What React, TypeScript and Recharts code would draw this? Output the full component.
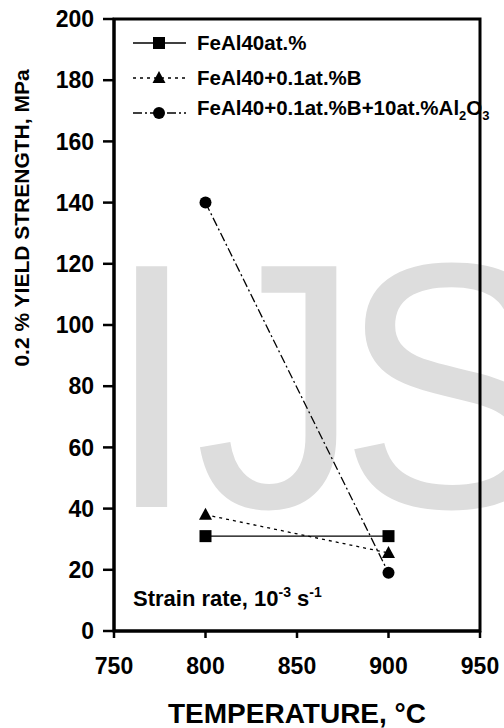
import { LineChart, Line, XAxis, YAxis, Legend, ReferenceArea } from "recharts";

const TEMPS = [800, 900];
const FEAL40 = [31, 31];
const FEAL40_B = [38, 25.5];
const FEAL40_B_AL2O3 = [140, 19];
const X_TICKS = [750, 800, 850, 900, 950];
const Y_TICKS = [0, 20, 40, 60, 80, 100, 120, 140, 160, 180, 200];

const FONT = "'Liberation Sans', Arial, Helvetica, sans-serif";

const data = TEMPS.map((t, i) => ({
  temp: t,
  feal: FEAL40[i],
  boron: FEAL40_B[i],
  alumina: FEAL40_B_AL2O3[i],
}));

type Shape = "square" | "triangle" | "circle";

const SERIES: { key: string; name: string; dash?: string; shape: Shape }[] = [
  { key: "feal", name: "FeAl40at.%", shape: "square" },
  { key: "boron", name: "FeAl40+0.1at.%B", dash: "3 4", shape: "triangle" },
  { key: "alumina", name: "FeAl40+0.1at.%B+10at.%Al2O3", dash: "9 3 2 3", shape: "circle" },
];

function Marker({ cx, cy, shape }: { cx: number; cy: number; shape: Shape }) {
  if (cx == null || cy == null) return null;
  if (shape === "square") return <rect x={cx - 6} y={cy - 6} width={12} height={12} fill="#000" />;
  if (shape === "triangle")
    return <polygon points={`${cx},${cy - 7} ${cx + 6.5},${cy + 5} ${cx - 6.5},${cy + 5}`} fill="#000" />;
  return <circle cx={cx} cy={cy} r={6} fill="#000" />;
}

function legendLabel(name: string) {
  // Al2O3 gets real subscripts
  if (!name.endsWith("Al2O3")) return name;
  const head = name.slice(0, -5);
  return (
    <>
      {head}Al<sub style={{ fontSize: 13 }}>2</sub>O<sub style={{ fontSize: 13 }}>3</sub>
    </>
  );
}

function LegendBox() {
  return (
    <div style={{ fontFamily: FONT, fontWeight: "bold", fontSize: 20.5 }}>
      {SERIES.map((s) => (
        <div key={s.key} style={{ display: "flex", alignItems: "center", height: 35, lineHeight: "20px" }}>
          <svg width={64} height={20} style={{ flexShrink: 0 }}>
            <line x1={0} y1={10} x2={53} y2={10} stroke="#000" strokeWidth={1.4} strokeDasharray={s.dash} />
            <Marker cx={26} cy={10} shape={s.shape} />
          </svg>
          <span style={{ whiteSpace: "nowrap" }}>{legendLabel(s.name)}</span>
        </div>
      ))}
    </div>
  );
}

function BoldTick(props: any) {
  const { x, y, payload, textAnchor, orientation } = props;
  return (
    <text
      x={x}
      y={y}
      dy={orientation === "bottom" ? "0.71em" : "0.36em"}
      textAnchor={textAnchor}
      fontFamily={FONT}
      fontWeight="bold"
      fontSize={23}
      fill="#000"
    >
      {payload.value}
    </text>
  );
}

export default function App() {
  return (
    <div style={{ position: "absolute", left: 0, top: 0, width: 504, height: 728, background: "#fff", overflow: "hidden" }}>
      <svg width={504} height={728} style={{ position: "absolute", left: 0, top: 0 }}>
        {/* watermark behind the plot, cut by the right edge like the source */}
        <text
          transform="scale(0.95,1)"
          x="111 205 357"
          y={507}
          fill="#dddddd"
          fontFamily={FONT}
          fontSize={350}
        >
          IJS
        </text>
        <text
          x={21}
          y={218}
          transform="rotate(-90,21,218)"
          textAnchor="middle"
          dominantBaseline="central"
          fontFamily={FONT}
          fontWeight="bold"
          fontSize={21}
        >
          0.2 % YIELD STRENGTH, MPa
        </text>
        <text x={297} y={723} textAnchor="middle" fontFamily={FONT} fontWeight="bold" fontSize={28}>
          TEMPERATURE, °C
        </text>
        <text x={133} y={606} fontFamily={FONT} fontWeight="bold" fontSize={22}>
          Strain rate, 10
          <tspan fontSize={14} dy={-9}>-3</tspan>
          <tspan fontSize={22} dy={9}> s</tspan>
          <tspan fontSize={14} dy={-9}>-1</tspan>
        </text>
      </svg>
      <div style={{ position: "absolute", left: 0, top: 0 }}>
        <LineChart width={504} height={728} data={data} margin={{ top: 19, right: 24, left: 0, bottom: 0 }}>
          <XAxis
            dataKey="temp"
            type="number"
            domain={[750, 950]}
            ticks={X_TICKS}
            height={97}
            tickSize={7}
            tickMargin={20}
            tick={<BoldTick />}
            axisLine={{ stroke: "#000", strokeWidth: 3 }}
            tickLine={{ stroke: "#000", strokeWidth: 2.5 }}
          />
          <YAxis
            type="number"
            domain={[0, 200]}
            ticks={Y_TICKS}
            width={114}
            tickSize={11}
            tickMargin={9}
            tick={<BoldTick />}
            axisLine={{ stroke: "#000", strokeWidth: 3 }}
            tickLine={{ stroke: "#000", strokeWidth: 2.5 }}
          />
          <ReferenceArea x1={750} x2={950} y1={0} y2={200} fill="none" stroke="#000" strokeWidth={3} />
          {SERIES.map((s) => (
            <Line
              key={s.key}
              dataKey={s.key}
              name={s.name}
              stroke="#000"
              strokeWidth={1.3}
              strokeDasharray={s.dash}
              isAnimationActive={false}
              dot={(p: any) => <Marker key={`${s.key}-${p.index}`} cx={p.cx} cy={p.cy} shape={s.shape} />}
              activeDot={false}
            />
          ))}
          <Legend
            layout="vertical"
            align="center"
            verticalAlign="middle"
            content={() => <LegendBox />}
            wrapperStyle={{ left: 133, top: 25, width: "auto" }}
          />
        </LineChart>
      </div>
    </div>
  );
}
